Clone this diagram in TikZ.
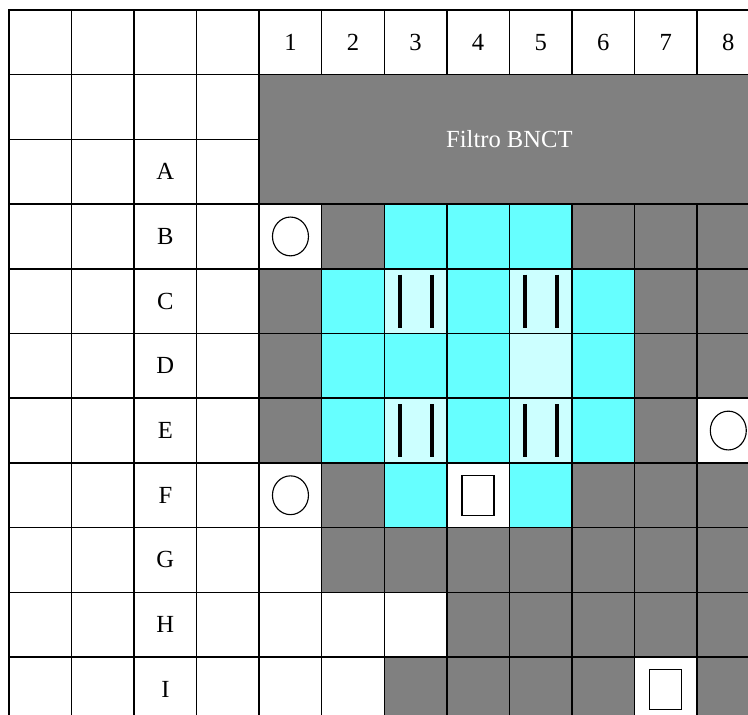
\documentclass[tikz,border=0pt]{standalone}
\usepackage{fontspec}
\setmainfont{Liberation Serif}
\usetikzlibrary{shapes.geometric}
\definecolor{cellgray}{HTML}{808080}
\definecolor{cellcyan}{HTML}{66FFFF}
\definecolor{celllight}{HTML}{CCFFFF}
\begin{document}
\begin{tikzpicture}[
        x=1.5637cm,
        y=-1.6175cm,
        grid/.style={line width=1pt, line cap=rect},
        tag/.style={font=\fontsize{17.5}{20}\selectfont, inner sep=0pt},
        cellw/.style={fill=white},
        cellg/.style={fill=cellgray},
        cellc/.style={fill=cellcyan},
        celll/.style={fill=celllight},
        hole/.style={
            ellipse,
            draw,
            line width=0.8pt,
            fill=white,
            minimum width=0.9cm,
            minimum height=0.97cm,
            inner sep=0pt
        },
        plug/.style={
            rectangle,
            draw,
            line width=1pt,
            fill=white,
            minimum width=0.8cm,
            minimum height=1cm,
            inner sep=0pt
        },
        rod/.style={line width=2.8pt}
    ]

        \useasboundingbox (-0.1439,-0.1546) rectangle (11.815,10.896);
        \clip (-0.1439,-0.1546) rectangle (11.815,10.896);

        % filter block and core cells
        \fill[cellg] (4,1) rectangle (12,3);
        \foreach \r/\cells in {
            3/{w,g,c,c,c,g,g,g},
            4/{g,c,l,c,l,c,g,g},
            5/{g,c,c,c,l,c,g,g},
            6/{g,c,l,c,l,c,g,w},
            7/{w,g,c,w,c,g,g,g},
            8/{w,g,g,g,g,g,g,g},
            9/{w,w,w,g,g,g,g,g},
            10/{w,w,g,g,g,g,w,g}}
            \foreach \k [count=\c] in \cells
                \fill[cell\k] (\c+3,\r) rectangle (\c+4,\r+1);

        % grid
        \draw[grid] (0,0) -- (12,0);
        \draw[grid] (0,1) -- (12,1);
        \draw[grid] (0,2) -- (4,2);
        \foreach \r in {3,...,11}
            \draw[grid] (0,\r) -- (12,\r);
        \foreach \c in {0,...,4}
            \draw[grid] (\c,0) -- (\c,11);
        \foreach \c in {5,...,12} {
            \draw[grid] (\c,0) -- (\c,1);
            \draw[grid] (\c,3) -- (\c,11);
        }

        % labels
        \foreach \n in {1,...,8}
            \node[tag] (col\n) at (\n+3.5,0.5) {\n};
        \foreach \t [count=\i from 2] in {A,B,C,D,E,F,G,H,I}
            \node[tag] (row\t) at (2.5,\i+0.5) {\t};
        \node[tag, text=white] (filtro) at (8,2) {Filtro BNCT};

        % fuel rods
        \foreach \cx/\cy in {6.5/4.5, 8.5/4.5, 6.5/6.5, 8.5/6.5} {
            \draw[rod] (\cx-0.256,\cy-0.41) -- (\cx-0.256,\cy+0.41);
            \draw[rod] (\cx+0.256,\cy-0.41) -- (\cx+0.256,\cy+0.41);
        }

        % holes and plugs
        \node[hole] (holeB1) at (4.5,3.5) {};
        \node[hole] (holeF1) at (4.5,7.5) {};
        \node[hole] (holeE8) at (11.5,6.5) {};
        \node[plug] (plugF4) at (7.5,7.5) {};
        \node[plug] (plugI7) at (10.5,10.5) {};

    \end{tikzpicture}
\end{document}
